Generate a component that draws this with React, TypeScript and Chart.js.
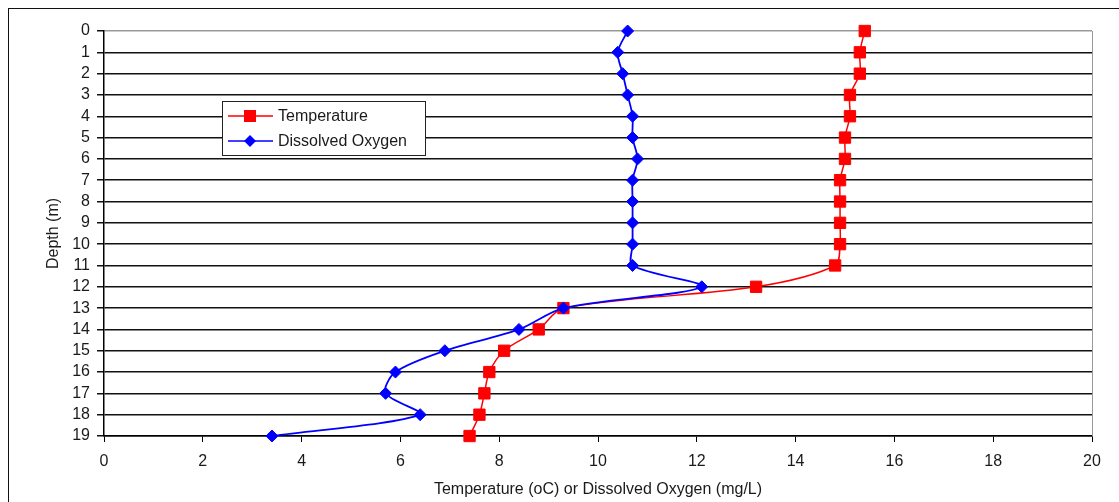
import React, { useEffect, useRef } from "react";
import { Chart, registerables } from "chart.js";

Chart.register(...registerables);

const depths = [0, 1, 2, 3, 4, 5, 6, 7, 8, 9, 10, 11, 12, 13, 14, 15, 16, 17, 18, 19];
const temperature = [15.4, 15.3, 15.3, 15.1, 15.1, 15.0, 15.0, 14.9, 14.9, 14.9, 14.9, 14.8, 13.2, 9.3, 8.8, 8.1, 7.8, 7.7, 7.6, 7.4];
const dissolvedOxygen = [10.6, 10.4, 10.5, 10.6, 10.7, 10.7, 10.8, 10.7, 10.7, 10.7, 10.7, 10.7, 12.1, 9.3, 8.4, 6.9, 5.9, 5.7, 6.4, 3.4];
const xTitle = "Temperature (oC) or Dissolved Oxygen (mg/L)";
const yTitle = "Depth (m)";
const seriesNames = ["Temperature", "Dissolved Oxygen"];

const FONT = "'Liberation Sans', Arial, sans-serif";
const TEXT = "#1a1a1a";

const legendPlugin = {
  id: "excelLegend",
  afterDraw(chart: any) {
    const ctx = chart.ctx;
    const x0 = 222, y0 = 101, w = 203, h = 54;
    ctx.save();
    ctx.fillStyle = "#fff";
    ctx.fillRect(x0, y0, w, h);
    ctx.strokeStyle = "#222";
    ctx.lineWidth = 1;
    ctx.strokeRect(x0 + 0.5, y0 + 0.5, w, h);
    const items = [
      { label: seriesNames[0], color: "#ff0000", style: "rect", y: 116 },
      { label: seriesNames[1], color: "#0000ff", style: "rectRot", y: 141 },
    ];
    items.forEach((it) => {
      ctx.strokeStyle = it.color;
      ctx.lineWidth = 1.5;
      ctx.beginPath();
      ctx.moveTo(228, it.y);
      ctx.lineTo(273, it.y);
      ctx.stroke();
      ctx.fillStyle = it.color;
      if (it.style === "rect") {
        ctx.fillRect(244, it.y - 6, 12, 12);
      } else {
        ctx.beginPath();
        ctx.moveTo(250 - 6, it.y);
        ctx.lineTo(250, it.y - 6);
        ctx.lineTo(250 + 6, it.y);
        ctx.lineTo(250, it.y + 6);
        ctx.closePath();
        ctx.fill();
      }
      ctx.fillStyle = TEXT;
      ctx.font = "16px " + FONT;
      ctx.textBaseline = "middle";
      ctx.textAlign = "left";
      ctx.fillText(it.label, 278, it.y + 1);
    });
    ctx.restore();
  },
  beforeDatasetsDraw(chart: any) {
    const ctx = chart.ctx;
    const a = chart.chartArea;
    ctx.save();
    ctx.strokeStyle = "#999";
    ctx.lineWidth = 1;
    ctx.beginPath();
    ctx.moveTo(Math.round(a.right) + 0.5, a.top);
    ctx.lineTo(Math.round(a.right) + 0.5, a.bottom);
    ctx.stroke();
    ctx.restore();
  },
};

export default function App() {
  const ref = useRef<HTMLCanvasElement | null>(null);
  useEffect(() => {
    if (!ref.current) return;
    const chart = new Chart(ref.current, {
      type: "scatter",
      data: {
        datasets: [
          {
            label: seriesNames[0],
            data: depths.map((d, i) => ({ x: temperature[i], y: d })),
            showLine: true,
            borderColor: "#ff0000",
            backgroundColor: "#ff0000",
            borderWidth: 1.5,
            pointStyle: "rect",
            pointRadius: 8,
            pointBorderWidth: 1,
            tension: 0.3,
            clip: false,
            order: 1,
          },
          {
            label: seriesNames[1],
            data: depths.map((d, i) => ({ x: dissolvedOxygen[i], y: d })),
            showLine: true,
            borderColor: "#0000ff",
            backgroundColor: "#0000ff",
            borderWidth: 1.8,
            pointStyle: "rectRot",
            pointRadius: 6,
            pointBorderWidth: 1,
            tension: 0.3,
            clip: false,
            order: 0,
          },
        ],
      },
      options: {
        animation: false,
        responsive: false,
        maintainAspectRatio: false,
        layout: { padding: { left: 0, top: 31, right: 27, bottom: 0 } },
        plugins: { legend: { display: false }, tooltip: { enabled: false } },
        scales: {
          x: {
            type: "linear",
            min: 0,
            max: 20,
            afterFit: (s: any) => { s.height = 66; },
            ticks: { stepSize: 2, padding: 10, color: TEXT, font: { family: FONT, size: 16 } },
            grid: { drawOnChartArea: false, drawTicks: true, tickLength: 6, color: "#000", lineWidth: 1 },
            border: { display: true, color: "#000", width: 1.5 },
            title: { display: true, text: xTitle, color: TEXT, font: { family: FONT, size: 16 }, padding: { top: 0, bottom: 3 } },
          },
          y: {
            type: "linear",
            reverse: true,
            min: 0,
            max: 19,
            afterFit: (s: any) => { s.width = 104; },
            afterBuildTicks: (s: any) => { s.ticks = depths.map((d) => ({ value: d })); },
            ticks: { stepSize: 1, padding: 7, color: TEXT, autoSkip: false, font: { family: FONT, size: 16 } },
            grid: {
              color: (c: any) => (c.index === 0 ? "#999" : "#111"),
              tickColor: "#111",
              lineWidth: 1.5,
              drawTicks: true,
              tickLength: 7,
            },
            border: { display: true, color: "#000", width: 1.5 },
            title: { display: true, text: yTitle, color: TEXT, font: { family: FONT, size: 16 }, padding: { top: 44, bottom: 0 } },
          },
        },
      },
      plugins: [legendPlugin],
    } as any);
    return () => chart.destroy();
  }, []);
  return (
    <div style={{ position: "fixed", left: 0, top: 0, width: 1119, height: 502, overflow: "hidden", background: "#fff" }}>
      <div style={{ position: "absolute", left: 8, top: 8, width: 1200, height: 600, borderLeft: "1.5px solid #111", borderTop: "1.5px solid #111", boxSizing: "border-box" }} />
      <canvas ref={ref} width={1119} height={502} style={{ position: "absolute", left: 0, top: 0, width: 1119, height: 502 }} />
    </div>
  );
}
